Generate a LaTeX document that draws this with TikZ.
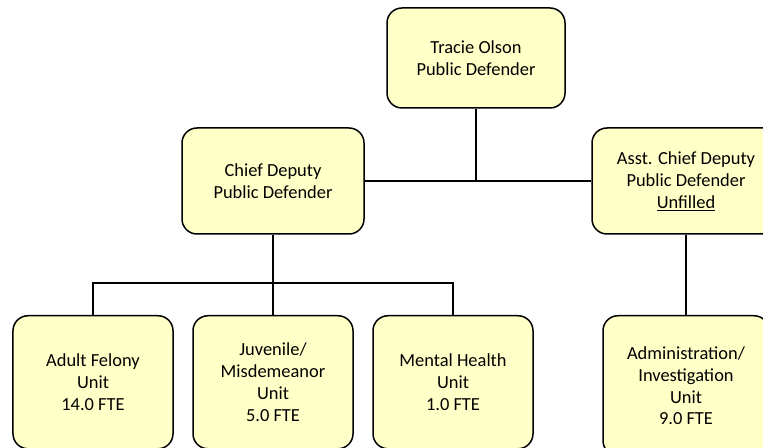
\documentclass[tikz,border=0pt]{standalone}
\usepackage{fontspec}
\setmainfont{Carlito}
\usetikzlibrary{calc}
\definecolor{boxfill}{RGB}{255,255,200}

\begin{document}
\begin{tikzpicture}[x=1bp,y=-1bp,
	unit/.style={draw,line width=1.5bp,rounded corners=15bp,fill=boxfill,align=center,
		font=\fontsize{18.5}{22}\selectfont,inner sep=0pt,minimum width=160bp},
	link/.style={line width=1.5bp}]
	\useasboundingbox (0,0) rectangle (763,448);
	\clip (0,0) rectangle (763,448);
	\node[unit,minimum width=178bp,minimum height=100bp] (pd) at (476,58) {Tracie Olson\\Public Defender};
	\node[unit,minimum width=182bp,minimum height=106bp] (chief) at (273,181) {Chief Deputy\\Public Defender};
	\node[unit,minimum width=188bp,minimum height=106bp] (asst) at (686,181) {Asst. Chief Deputy\\Public Defender\\\underline{Unfilled}};
	\foreach \x/\n/\gt in {93/felony/{Adult Felony\\Unit\\14.0 FTE},
			273/juvenile/{Juvenile/\\Misdemeanor\\Unit\\5.0 FTE},
			453/mental/{Mental Health\\Unit\\1.0 FTE}}
		\node[unit,minimum height=133bp,anchor=north] (\n) at (\x,315) {\gt};
	\node[unit,minimum width=166bp,minimum height=140bp,anchor=north] (admin) at (686,315) {Administration/\\Investigation\\Unit\\9.0 FTE};
	\coordinate (bar) at (273,283);
	\draw[link] (chief.east) -- (asst.west) (pd.south) -- (pd.south |- chief.east);
	\draw[link] (chief.south) -- (bar);
	\foreach \n in {felony,juvenile,mental}\draw[link] (bar) -| (\n.north);
	\draw[link] (asst.south) -- (admin.north);
\end{tikzpicture}
\end{document}
